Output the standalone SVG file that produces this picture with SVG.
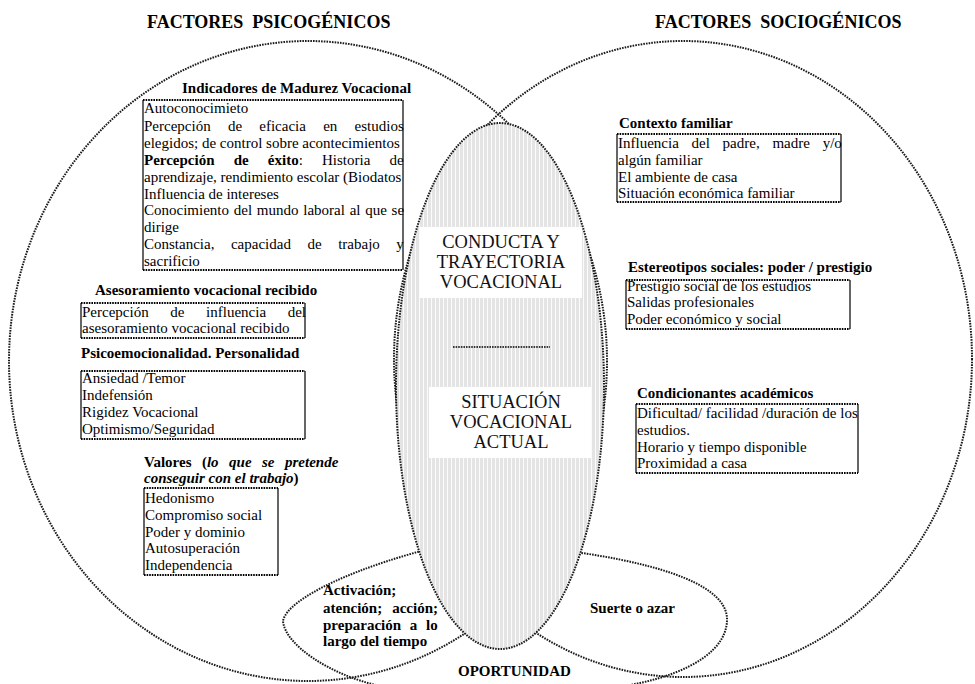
<svg xmlns="http://www.w3.org/2000/svg" width="975" height="684" viewBox="0 0 975 684">
<defs>
<pattern id="stripes" width="4" height="10" patternUnits="userSpaceOnUse">
<rect width="4" height="10" fill="#e4e4e4"/>
<rect x="3" width="1" height="10" fill="#fbfbfb"/>
</pattern>
<style>
.dot{fill:none;stroke:#1a1a1a;stroke-width:2;stroke-dasharray:1.6 1.1}
.side{fill:none;stroke:#000;stroke-width:1.2}
.bd{fill:none;stroke:#000;stroke-width:2;stroke-dasharray:1.6 1}
text{font-family:"Liberation Serif","Times New Roman",serif;font-size:15px;fill:#000}
.b{font-weight:bold}
.bi{font-weight:bold;font-style:italic}
.title{font-size:18px;font-weight:bold}
.ctr{font-size:18.5px;text-anchor:middle;fill:#111}
</style>
</defs>
<rect width="975" height="684" fill="#fff"/>

<g id="titles">
<text class="title" x="147" y="28" xml:space="preserve">FACTORES  PSICOGÉNICOS</text>
<text class="title" x="655" y="28" xml:space="preserve">FACTORES  SOCIOGÉNICOS</text>
</g>

<g id="circle-psicogenicos">
<ellipse class="dot" cx="308" cy="361" rx="299" ry="320"/>
</g>
<g id="circle-sociogenicos">
<ellipse class="dot" cx="683" cy="359" rx="289" ry="318"/>
</g>

<g id="oportunidad-activacion">
<path class="dot" d="M445,545 C360,565 287,598 283,621 C285,645 330,675 380,686 L400,694"/>
</g>
<g id="oportunidad-suerte">
<path class="dot" d="M560,550 C640,560 725,580 727,618 C728,650 690,672 640,683 L575,696"/>
</g>

<g id="conducta-situacion">
<ellipse cx="500" cy="386" rx="104" ry="263" fill="url(#stripes)"/>
<ellipse class="dot" cx="500" cy="386" rx="104" ry="263"/>
<rect x="420" y="227" width="162" height="71" fill="#fff"/>
<text class="ctr" x="501" y="248">CONDUCTA Y</text>
<text class="ctr" x="501" y="268">TRAYECTORIA</text>
<text class="ctr" x="501" y="288">VOCACIONAL</text>
<line class="bd" x1="453" y1="347" x2="550" y2="347" style="stroke-width:1.5"/>
<rect x="429" y="387" width="162" height="71" fill="#fff"/>
<text class="ctr" x="511" y="408">SITUACIÓN</text>
<text class="ctr" x="511" y="428">VOCACIONAL</text>
<text class="ctr" x="511" y="448">ACTUAL</text>
</g>

<g id="indicadores">
<text class="b" x="182" y="93">Indicadores de Madurez Vocacional</text>
<path class="side" d="M143,100 V270 M403,100 V270"/>
<path class="bd" d="M143,100 H403 M143,270 H403"/>
<text x="144" y="113">Autoconocimieto</text>
<text x="144" y="131" style="word-spacing:13.5px">Percepción de eficacia en estudios</text>
<text x="144" y="148">elegidos; de control sobre acontecimientos</text>
<text x="144" y="165" style="word-spacing:15.4px"><tspan class="b">Percepción de éxito</tspan>: Historia de</text>
<text x="144" y="182">aprendizaje, rendimiento escolar (Biodatos</text>
<text x="144" y="199">Influencia de intereses</text>
<text x="144" y="215" style="word-spacing:1px">Conocimiento del mundo laboral al que se</text>
<text x="144" y="232">dirige</text>
<text x="144" y="249" style="word-spacing:12.8px">Constancia, capacidad de trabajo y</text>
<text x="144" y="266">sacrificio</text>
</g>

<g id="asesoramiento">
<text class="b" x="95" y="295">Asesoramiento vocacional recibido</text>
<path class="side" d="M81,303 V338 M305,303 V338"/>
<path class="bd" d="M81,303 H305 M81,338 H305"/>
<text x="82" y="317" style="word-spacing:17.9px">Percepción de influencia del</text>
<text x="82" y="333">asesoramiento vocacional recibido</text>
</g>

<g id="psicoemocionalidad">
<text class="b" x="81" y="358">Psicoemocionalidad. Personalidad</text>
<path class="side" d="M81,371 V439 M305,371 V439"/>
<path class="bd" d="M81,371 H305 M81,439 H305"/>
<text x="82" y="383">Ansiedad /Temor</text>
<text x="82" y="400">Indefensión</text>
<text x="82" y="417">Rigidez Vocacional</text>
<text x="82" y="434">Optimismo/Seguridad</text>
</g>

<g id="valores">
<text x="144" y="467" style="word-spacing:6.7px"><tspan class="b">Valores (</tspan><tspan class="bi">lo que se pretende</tspan></text>
<text x="144" y="483"><tspan class="bi">conseguir con el trabajo</tspan><tspan class="b">)</tspan></text>
<path class="side" d="M144,488 V575 M278,488 V575"/>
<path class="bd" d="M144,488 H278 M144,575 H278"/>
<text x="145" y="503">Hedonismo</text>
<text x="145" y="520">Compromiso social</text>
<text x="145" y="537">Poder y dominio</text>
<text x="145" y="553">Autosuperación</text>
<text x="145" y="570">Independencia</text>
</g>

<g id="contexto-familiar">
<text class="b" x="619" y="128">Contexto familiar</text>
<path class="side" d="M617,134 V202 M841,134 V202"/>
<path class="bd" d="M617,134 H841 M617,202 H841"/>
<text x="618" y="148" style="word-spacing:9px">Influencia del padre, madre y/o</text>
<text x="618" y="165">algún familiar</text>
<text x="618" y="182">El ambiente de casa</text>
<text x="618" y="198">Situación económica familiar</text>
</g>

<g id="estereotipos">
<text class="b" x="628" y="272">Estereotipos sociales: poder / prestigio</text>
<path class="side" d="M626,280 V329 M850,280 V329"/>
<path class="bd" d="M626,280 H850 M626,329 H850"/>
<text x="627" y="291">Prestigio social de los estudios</text>
<text x="627" y="307">Salidas profesionales</text>
<text x="627" y="324">Poder económico y social</text>
</g>

<g id="condicionantes">
<text class="b" x="637" y="398">Condicionantes académicos</text>
<path class="side" d="M636,404 V473 M858,404 V473"/>
<path class="bd" d="M636,404 H858 M636,473 H858"/>
<text x="637" y="418">Dificultad/ facilidad /duración de los</text>
<text x="637" y="435">estudios.</text>
<text x="637" y="452">Horario y tiempo disponible</text>
<text x="637" y="468">Proximidad a casa</text>
</g>

<g id="activacion">
<text class="b" x="323" y="595">Activación;</text>
<text class="b" x="323" y="613" style="word-spacing:6.3px">atención; acción;</text>
<text class="b" x="323" y="630" style="word-spacing:5px">preparación a lo</text>
<text class="b" x="323" y="646">largo del tiempo</text>
</g>

<g id="suerte">
<text class="b" x="590" y="613">Suerte o azar</text>
</g>

<g id="oportunidad">
<text class="b" x="458" y="676">OPORTUNIDAD</text>
</g>
</svg>
